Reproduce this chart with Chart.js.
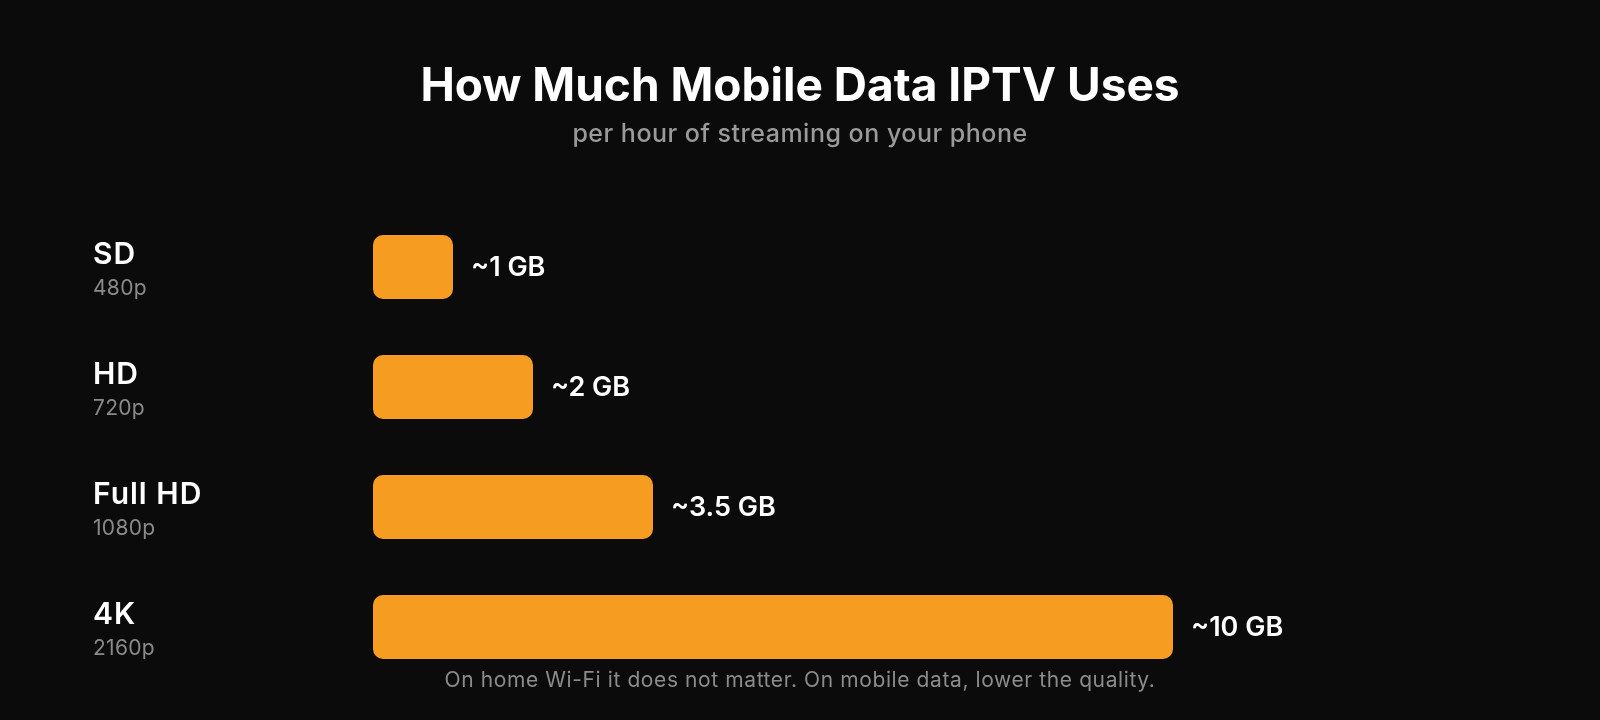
<!DOCTYPE html>
<html>
<head>
<meta charset="utf-8">
<script src="https://cdn.jsdelivr.net/npm/chart.js@4"></script>
<style>
  html, body { margin: 0; padding: 0; background: #0b0b0b; }
  #wrap { width: 1600px; height: 720px; }
</style>
</head>
<body>
<div id="wrap"><canvas id="dataChart" width="1600" height="720"></canvas></div>
<script>
const qualities = ["SD", "HD", "Full HD", "4K"];
const resolutions = ["480p", "720p", "1080p", "2160p"];
const gbPerHour = [1, 2, 3.5, 10];
const valueLabels = ["~1 GB", "~2 GB", "~3.5 GB", "~10 GB"];

const titleText = "How Much Mobile Data IPTV Uses";
const subtitleText = "per hour of streaming on your phone";
const footnoteText = "On home Wi-Fi it does not matter. On mobile data, lower the quality.";

const FONT = "Inter, 'DejaVu Sans', sans-serif";

// titles, row labels and value labels drawn on the canvas
const textPlugin = {
  id: "texts",
  afterDatasetsDraw(chart) {
    const ctx = chart.ctx;
    const yScale = chart.scales.y;
    ctx.save();
    ctx.textAlign = "center";
    ctx.textBaseline = "alphabetic";
    ctx.fillStyle = "#ffffff";
    ctx.letterSpacing = "0px";
    ctx.font = "bold 46px " + FONT;
    ctx.fillText(titleText, 800, 101);
    ctx.fillStyle = "#9a9a9a";
    ctx.font = "500 25px " + FONT;
    ctx.letterSpacing = "0.5px";
    ctx.fillText(subtitleText, 800, 142);
    ctx.fillStyle = "#8c8c8c";
    ctx.font = "21px " + FONT;
    ctx.letterSpacing = "0.6px";
    ctx.fillText(footnoteText, 800, 687);

    ctx.textAlign = "left";
    qualities.forEach((q, i) => {
      const y = yScale.getPixelForValue(i);
      ctx.fillStyle = "#ffffff";
      ctx.font = "600 30px " + FONT;
      ctx.letterSpacing = "1px";
      ctx.fillText(q, 93, y - 3);
      ctx.fillStyle = "#8a8a8a";
      ctx.font = "21px " + FONT;
      ctx.letterSpacing = "0.3px";
      ctx.fillText(resolutions[i], 93, y + 28);
    });

    const meta = chart.getDatasetMeta(0);
    ctx.textBaseline = "middle";
    ctx.fillStyle = "#ffffff";
    ctx.font = "600 27px " + FONT;
    ctx.letterSpacing = "0px";
    meta.data.forEach((bar, i) => {
      ctx.fillText(valueLabels[i], bar.x + 18, bar.y + 1);
    });
    ctx.restore();
  }
};

const bgPlugin = {
  id: "bg",
  beforeDraw(chart) {
    const ctx = chart.ctx;
    ctx.save();
    ctx.fillStyle = "#0b0b0b";
    ctx.fillRect(0, 0, chart.width, chart.height);
    ctx.restore();
  }
};

new Chart(document.getElementById("dataChart"), {
  type: "bar",
  data: {
    labels: qualities,
    datasets: [{
      data: gbPerHour,
      backgroundColor: "#f69c21",
      borderRadius: 10,
      borderSkipped: false,
      categoryPercentage: 1,
      barPercentage: 0.533
    }]
  },
  options: {
    indexAxis: "y",
    responsive: false,
    animation: false,
    layout: { padding: { left: 373, right: 107, top: 207, bottom: 33 } },
    scales: {
      x: { min: 0, max: 14, display: false },
      y: { display: false }
    },
    plugins: {
      legend: { display: false },
      title: { display: false },
      tooltip: { enabled: false }
    }
  },
  plugins: [bgPlugin, textPlugin]
});
</script>
</body>
</html>
